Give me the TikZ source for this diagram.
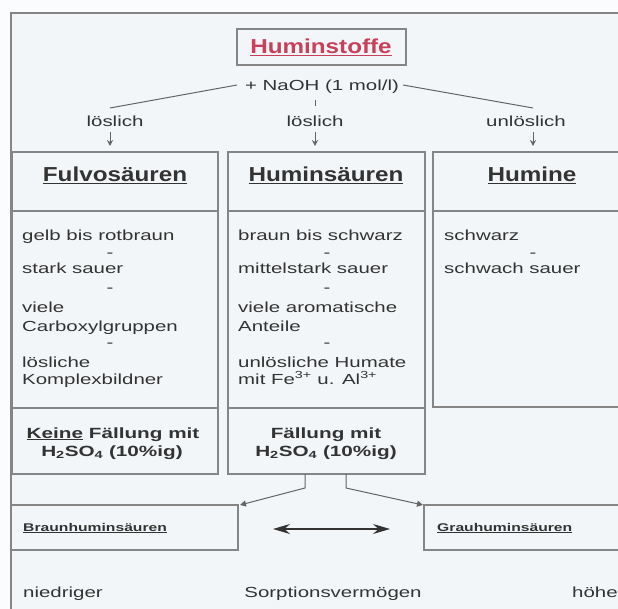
\documentclass[tikz,border=0pt]{standalone}
\usepackage{fontspec}
\setmainfont[FakeStretch=1.4]{Liberation Sans}
\newfontfamily\headfam[FakeStretch=1.2]{Liberation Sans}
\usetikzlibrary{arrows.meta}
\definecolor{bgc}{HTML}{F3F6F8}
\definecolor{outc}{HTML}{FBFCFD}
\definecolor{txtc}{HTML}{333333}
\definecolor{linec}{HTML}{858585}
\definecolor{redc}{HTML}{C8405A}
\newcommand\fsreg{\fontsize{14.6}{17}\selectfont}
\newcommand\fsbold{\fontsize{14.8}{17}\selectfont\bfseries}
\newcommand\fshead{\headfam\fontsize{20.2}{24}\selectfont\bfseries}
\newcommand\fssmall{\fontsize{11.2}{13}\selectfont\bfseries}
\begin{document}
\begin{tikzpicture}[x=1pt,y=-1pt,
  frame/.style={draw=linec,line width=1.2pt},
  conn/.style={draw=linec!75!black,line width=1pt},
  txt/.style={anchor=base west,inner sep=0pt,text=txtc,font=\fsreg},
  ctxt/.style={anchor=base,inner sep=0pt,text=txtc,font=\fsreg},
  btxt/.style={anchor=base,inner sep=0pt,text=txtc,font=\fsbold},
  head/.style={anchor=base,inner sep=0pt,text=txtc,font=\fshead},
  small/.style={anchor=base west,inner sep=0pt,text=txtc,font=\fssmall},
  sepdash/.style={anchor=base,inner sep=0pt,text=txtc,font=\fsreg},
  tip/.style={-{Stealth[length=6pt,width=6pt]}},
  bigtip/.style={{Stealth[length=17pt,width=10pt]}-{Stealth[length=17pt,width=10pt]}}
]
\useasboundingbox (0,0) rectangle (618,609);
\fill[outc] (0,0) rectangle (618,609);
\fill[bgc] (11,13) rectangle (618,609);
% outer frame
\draw[frame] (618,13) -- (11,13) -- (11,609);
% title box
\draw[frame] (237,29) rectangle (406,65);
\node[anchor=base,inner sep=0pt,text=redc,font=\fshead] (title) at (321,54) {\underline{Huminstoffe}};
\node[ctxt] (naoh) at (322,91) {+ NaOH (1 mol/l)};
\coordinate (nl) at (237,85);
\coordinate (nr) at (403,85);
\coordinate (ll) at (110,108);
\coordinate (lr) at (533,108);
\draw[conn] (nl) -- (ll);
\draw[conn] (nr) -- (lr);
\coordinate (tk1) at (315,100);
\coordinate (tk2) at (315,106);
\draw[conn,line width=0.8pt] (tk1) -- (tk2);
\node[ctxt] (l1) at (115,127) {löslich};
\node[ctxt] (l2) at (315,127) {löslich};
\node[ctxt] (l3) at (526,127) {unlöslich};
\coordinate (a1s) at (110,132); \coordinate (a1e) at (110,146);
\coordinate (a2s) at (315,132); \coordinate (a2e) at (315,146);
\coordinate (a3s) at (533,132); \coordinate (a3e) at (533,146);
\draw[conn,tip] (a1s) -- (a1e);
\draw[conn,tip] (a2s) -- (a2e);
\draw[conn,tip] (a3s) -- (a3e);
% column boxes
\draw[frame] (12,152) rectangle (218,474);
\draw[frame] (12,211) -- (218,211);
\draw[frame] (12,408) -- (218,408);
\draw[frame] (228,152) rectangle (425,474);
\draw[frame] (228,211) -- (425,211);
\draw[frame] (228,408) -- (425,408);
\draw[frame] (620,152) -- (433,152) -- (433,407) -- (620,407);
\draw[frame] (433,211) -- (620,211);
% headers
\node[head] (h1) at (115,182) {\underline{Fulvosäuren}};
\node[head] (h2) at (326,182) {\underline{Huminsäuren}};
\node[head] (h3) at (532,182) {\underline{Humine}};
% Fulvo body
\node[txt] (f1) at (22,241) {gelb bis rotbraun};
\node[sepdash] (fd1) at (110,258) {-};
\node[txt] (f2) at (22,274) {stark sauer};
\node[sepdash] (fd2) at (110,293) {-};
\node[txt] (f3) at (22,313) {viele};
\node[txt] (f4) at (22,331) {Carboxylgruppen};
\node[sepdash] (fd3) at (110,348) {-};
\node[txt] (f5) at (22,367) {lösliche};
\node[txt] (f6) at (22,384) {Komplexbildner};
% Humins body
\node[txt] (s1) at (238,241) {braun bis schwarz};
\node[sepdash] (sd1) at (327,258) {-};
\node[txt] (s2) at (238,274) {mittelstark sauer};
\node[sepdash] (sd2) at (327,293) {-};
\node[txt] (s3) at (238,313) {viele aromatische};
\node[txt] (s4) at (238,331) {Anteile};
\node[sepdash] (sd3) at (327,348) {-};
\node[txt] (s5) at (238,367) {unlösliche Humate};
\node[txt] (s6) at (238,384) {mit Fe\textsuperscript{3+} u. Al\textsuperscript{3+}};
% Humine body
\node[txt] (m1) at (444,241) {schwarz};
\node[sepdash] (md1) at (533,258) {-};
\node[txt] (m2) at (444,274) {schwach sauer};
% bottom boxes
\node[btxt] (k1) at (113,438) {\underline{Keine} Fällung mit};
\node[btxt] (k2) at (112,456) {H\textsubscript{2}SO\textsubscript{4} (10\%ig)};
\node[btxt] (k3) at (326,438) {Fällung mit};
\node[btxt] (k4) at (326,456) {H\textsubscript{2}SO\textsubscript{4} (10\%ig)};
% connectors to sub-boxes
\coordinate (st1) at (305,474); \coordinate (sb1) at (305,488); \coordinate (e1) at (240,505);
\coordinate (st2) at (346,474); \coordinate (sb2) at (346,488); \coordinate (e2) at (423,505);
\draw[conn,-{Triangle[length=6pt,width=6pt]}] (st1) -- (sb1) -- (e1);
\draw[conn,-{Triangle[length=6pt,width=6pt]}] (st2) -- (sb2) -- (e2);
% sub-boxes
\draw[frame] (11,505) -- (238,505) -- (238,550) -- (11,550);
\draw[frame] (620,505) -- (424,505) -- (424,550) -- (620,550);
\node[small] (bh) at (23,531) {\underline{Braunhuminsäuren}};
\node[small] (gh) at (437,531) {\underline{Grauhuminsäuren}};
\coordinate (da) at (273,529); \coordinate (db) at (390,529);
\draw[draw=txtc,line width=1.1pt,bigtip] (da) -- (db);
% bottom line
\node[txt] (n1) at (23,597) {niedriger};
\node[ctxt] (n2) at (333,597) {Sorptionsvermögen};
\node[txt] (n3) at (572,597) {höhe};
\end{tikzpicture}
\end{document}
